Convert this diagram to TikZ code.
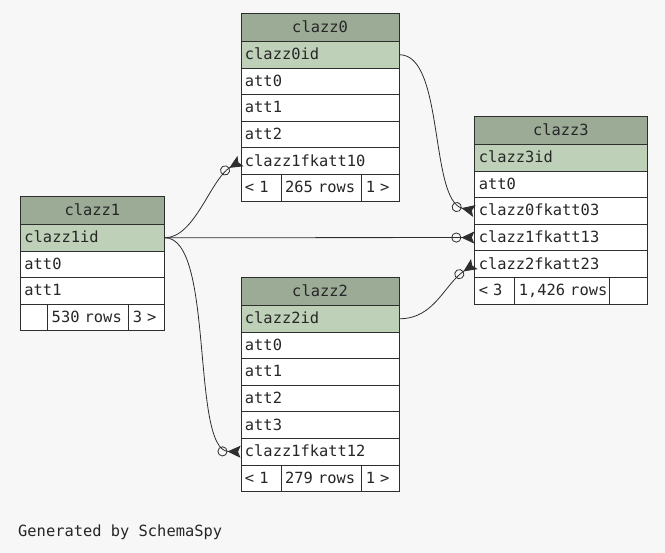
\documentclass[tikz,border=0pt]{standalone}
\usepackage{fontspec}
\setmonofont{DejaVu Sans Mono}
\usetikzlibrary{arrows.meta}

\definecolor{pagebg}{HTML}{F7F7F7}
\definecolor{headbg}{HTML}{9BAB96}
\definecolor{keybg}{HTML}{BED1B8}
\definecolor{frame}{HTML}{2E2E2E}

% monospace cells, one full character per space
\newcommand\cellfont{\ttfamily\fontsize{15.4}{18}\selectfont
  \fontdimen2\font=9.27pt\fontdimen3\font=0pt\fontdimen4\font=0pt}

\tikzset{
  cell/.style={draw=frame, line width=0.9pt, fill=white, anchor=north west,
    inner xsep=4pt, inner ysep=0pt, minimum height=26.6pt,
    text height=11.5pt, text depth=1.5pt, text width=#1, align=left,
    text=black!85, font=\cellfont},
  head/.style={cell=#1, fill=headbg, align=center, minimum height=27.7pt},
  key/.style={cell=#1, fill=keybg},
  fk/.style={draw=frame, line width=0.8pt,
    -{Circle[open,length=10pt,width=10pt,sep=0pt]Stealth[reversed,length=13pt,width=12pt,inset=2.5pt]}}
}

\begin{document}
\begin{tikzpicture}[x=1pt, y=-1pt]
\fill[pagebg] (0,0) rectangle (665,553);

% clazz0
\node[head=150.2pt] (t0) at (240.5,13.3) {clazz0};
\node[key=150.2pt] (t0id) at (240.5,41.0) {clazz0id};
\node[cell=150.2pt] (t0att0) at (240.5,67.6) {att0};
\node[cell=150.2pt] (t0att1) at (240.5,94.2) {att1};
\node[cell=150.2pt] (t0att2) at (240.5,120.8) {att2};
\node[cell=150.2pt] (t0fk1) at (240.5,147.4) {clazz1fkatt10};
\node[cell=32.2pt] (t0par) at (240.5,174.0) {<~1};
\node[cell=72.6pt] (t0rows) at (280.7,174.0) {265~rows};
\node[cell=29.4pt] (t0kid) at (361.3,174.0) {1~>};

% clazz1
\node[head=136pt] (t1) at (20,196.3) {clazz1};
\node[key=136pt] (t1id) at (20,224.0) {clazz1id};
\node[cell=136pt] (t1att0) at (20,250.6) {att0};
\node[cell=136pt] (t1att1) at (20,277.2) {att1};
\node[cell=19.3pt] (t1par) at (20,303.8) {};
\node[cell=73pt] (t1rows) at (47.3,303.8) {530~rows};
\node[cell=27.7pt] (t1kid) at (128.3,303.8) {3~>};

% clazz2
\node[head=150.2pt] (t2) at (240.5,277.3) {clazz2};
\node[key=150.2pt] (t2id) at (240.5,305.0) {clazz2id};
\node[cell=150.2pt] (t2att0) at (240.5,331.6) {att0};
\node[cell=150.2pt] (t2att1) at (240.5,358.2) {att1};
\node[cell=150.2pt] (t2att2) at (240.5,384.8) {att2};
\node[cell=150.2pt] (t2att3) at (240.5,411.4) {att3};
\node[cell=150.2pt] (t2fk1) at (240.5,438.0) {clazz1fkatt12};
\node[cell=32.2pt] (t2par) at (240.5,464.6) {<~1};
\node[cell=72.6pt] (t2rows) at (280.7,464.6) {279~rows};
\node[cell=29.4pt] (t2kid) at (361.3,464.6) {1~>};

% clazz3
\node[head=164.4pt] (t3) at (474.3,116.3) {clazz3};
\node[key=164.4pt] (t3id) at (474.3,144.0) {clazz3id};
\node[cell=164.4pt] (t3att0) at (474.3,170.6) {att0};
\node[cell=164.4pt] (t3fk0) at (474.3,197.2) {clazz0fkatt03};
\node[cell=164.4pt] (t3fk1) at (474.3,223.8) {clazz1fkatt13};
\node[cell=164.4pt] (t3fk2) at (474.3,250.4) {clazz2fkatt23};
\node[cell=32pt] (t3par) at (474.3,277.0) {<~3};
\node[cell=87pt] (t3rows) at (514.3,277.0) {1,426~rows};
\node[cell=29.4pt] (t3kid) at (609.3,277.0) {};

% foreign keys
\draw[fk] (t0id.east) .. controls +(45,0) and +(-45,-10) .. (t3fk0.west);
\draw[fk] (t1id.east) -- (t3fk1.west);
\draw[fk] (t1id.east) .. controls +(30,0) and +(-30,18) .. (t0fk1.west);
\draw[fk] (t1id.east) .. controls +(50,0) and +(-50,-1) .. (t2fk1.west);
\draw[fk] (t2id.east) .. controls +(35,0) and +(-30,20) .. (t3fk2.west);

\node[anchor=base west, inner sep=0pt, text=black!85, font=\cellfont] (credit) at (18,536.7) {Generated by SchemaSpy};
\end{tikzpicture}
\end{document}
